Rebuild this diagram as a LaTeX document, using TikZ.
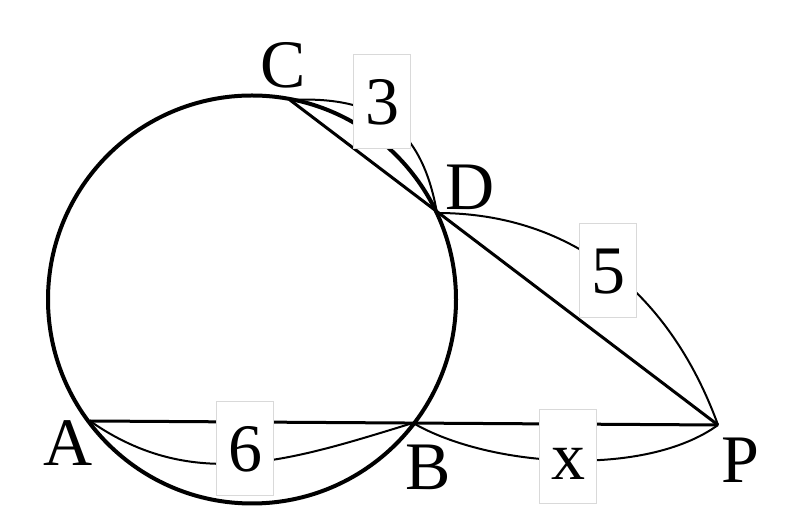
\documentclass[tikz,border=0pt]{standalone}
\usepackage{fontspec}
\setmainfont{Liberation Serif}
\begin{document}
\begin{tikzpicture}[x=1pt,y=1pt,
  lab/.style={font=\fontsize{68}{80}\selectfont, inner sep=0pt},
  valbox/.style={lab, draw=black!15, line width=1pt, fill=white,
    minimum width=57pt, minimum height=94pt, text height=46pt, text depth=0pt},
  circ/.style={line width=4pt},
  secant/.style={line width=3pt},
  arcline/.style={line width=2pt}]
\useasboundingbox (0,0) rectangle (800,513);
\coordinate (O) at (252,213.5);
\coordinate (C) at (290,413);
\coordinate (D) at (437,300);
\coordinate (A) at (90,92);
\coordinate (B) at (413,90);
\coordinate (P) at (718,88);
\draw[circ] (O) circle[radius=204];
\draw[secant] (C) -- (P);
\draw[secant] (A) -- (P);
\draw[arcline] (C) to[out=3,in=100,looseness=1.2] (D);
\draw[arcline] (D) to[out=0,in=110] (P);
\draw[arcline] (A) to[out=-35,in=197] (B);
\draw[arcline] (B) to[out=-30,in=216,looseness=0.75] (P);
\node[valbox] (n3) at (382,411) {3};
\node[valbox] (n5) at (608,242) {5};
\node[valbox] (n6) at (245,64) {6};
\node[valbox] (nx) at (568,56) {x};
\node[lab] (lC) at (283,448) {C};
\node[lab] (lD) at (470,326) {D};
\node[lab] (lA) at (68,70) {A};
\node[lab] (lB) at (428,46) {B};
\node[lab] (lP) at (740,53) {P};
\end{tikzpicture}
\end{document}
